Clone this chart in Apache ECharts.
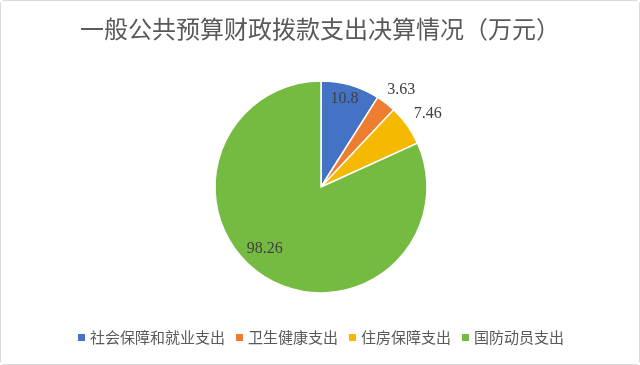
<!DOCTYPE html>
<html>
<head>
<meta charset="utf-8">
<script src="https://cdn.jsdelivr.net/npm/echarts@6/dist/echarts.min.js"></script>
<style>
html,body{margin:0;padding:0;background:#fff;}
#chart{position:absolute;left:0;top:0;width:638px;height:363px;border:1px solid #d9d9d9;border-radius:4px;}
</style>
</head>
<body>
<div id="chart"></div>
<script>
var titleText = '一般公共预算财政拨款支出决算情况（万元）';
var categories = ['社会保障和就业支出', '卫生健康支出', '住房保障支出', '国防动员支出'];
var values = [10.8, 3.63, 7.46, 98.26];
var colors = ['#4472C4', '#ED7D31', '#F4B900', '#76BB41'];
var labelPositions = ['inside', 'outside', 'outside', 'inside'];
var labelShift = [[8, -34], [-5, -12], [0, -10], [-26, 15]];

var chart = echarts.init(document.getElementById('chart'));
var data = categories.map(function (c, i) {
  return {
    name: c,
    value: values[i],
    itemStyle: { color: colors[i] },
    label: { position: labelPositions[i] }
  };
});
chart.setOption({
  animation: false,
  backgroundColor: '#fff',
  title: {
    text: titleText,
    left: 'center',
    top: 11,
    textStyle: { fontFamily: 'Noto Sans CJK SC', fontSize: 24, fontWeight: 'normal', color: '#595959' }
  },
  legend: {
    bottom: 14,
    left: 'center',
    icon: 'rect',
    itemWidth: 9,
    itemHeight: 9,
    itemGap: 9,
    textStyle: { fontFamily: 'Noto Sans CJK SC', fontSize: 15, color: '#595959', padding: [0, 0, 0, -1] },
    data: categories
  },
  series: [{
    type: 'pie',
    center: [320, 186],
    radius: [0, 106],
    startAngle: 90,
    clockwise: true,
    data: data,
    itemStyle: { borderColor: '#fff', borderWidth: 1.5 },
    label: {
      show: true,
      formatter: '{c}',
      fontFamily: 'Liberation Serif',
      fontSize: 16,
      color: '#404040'
    },
    labelLine: { show: false, length: 2, length2: 0 },
    labelLayout: function (p) {
      var s = labelShift[p.dataIndex];
      return { dx: s[0], dy: s[1] };
    },
    emphasis: { disabled: true }
  }]
});
</script>
</body>
</html>
